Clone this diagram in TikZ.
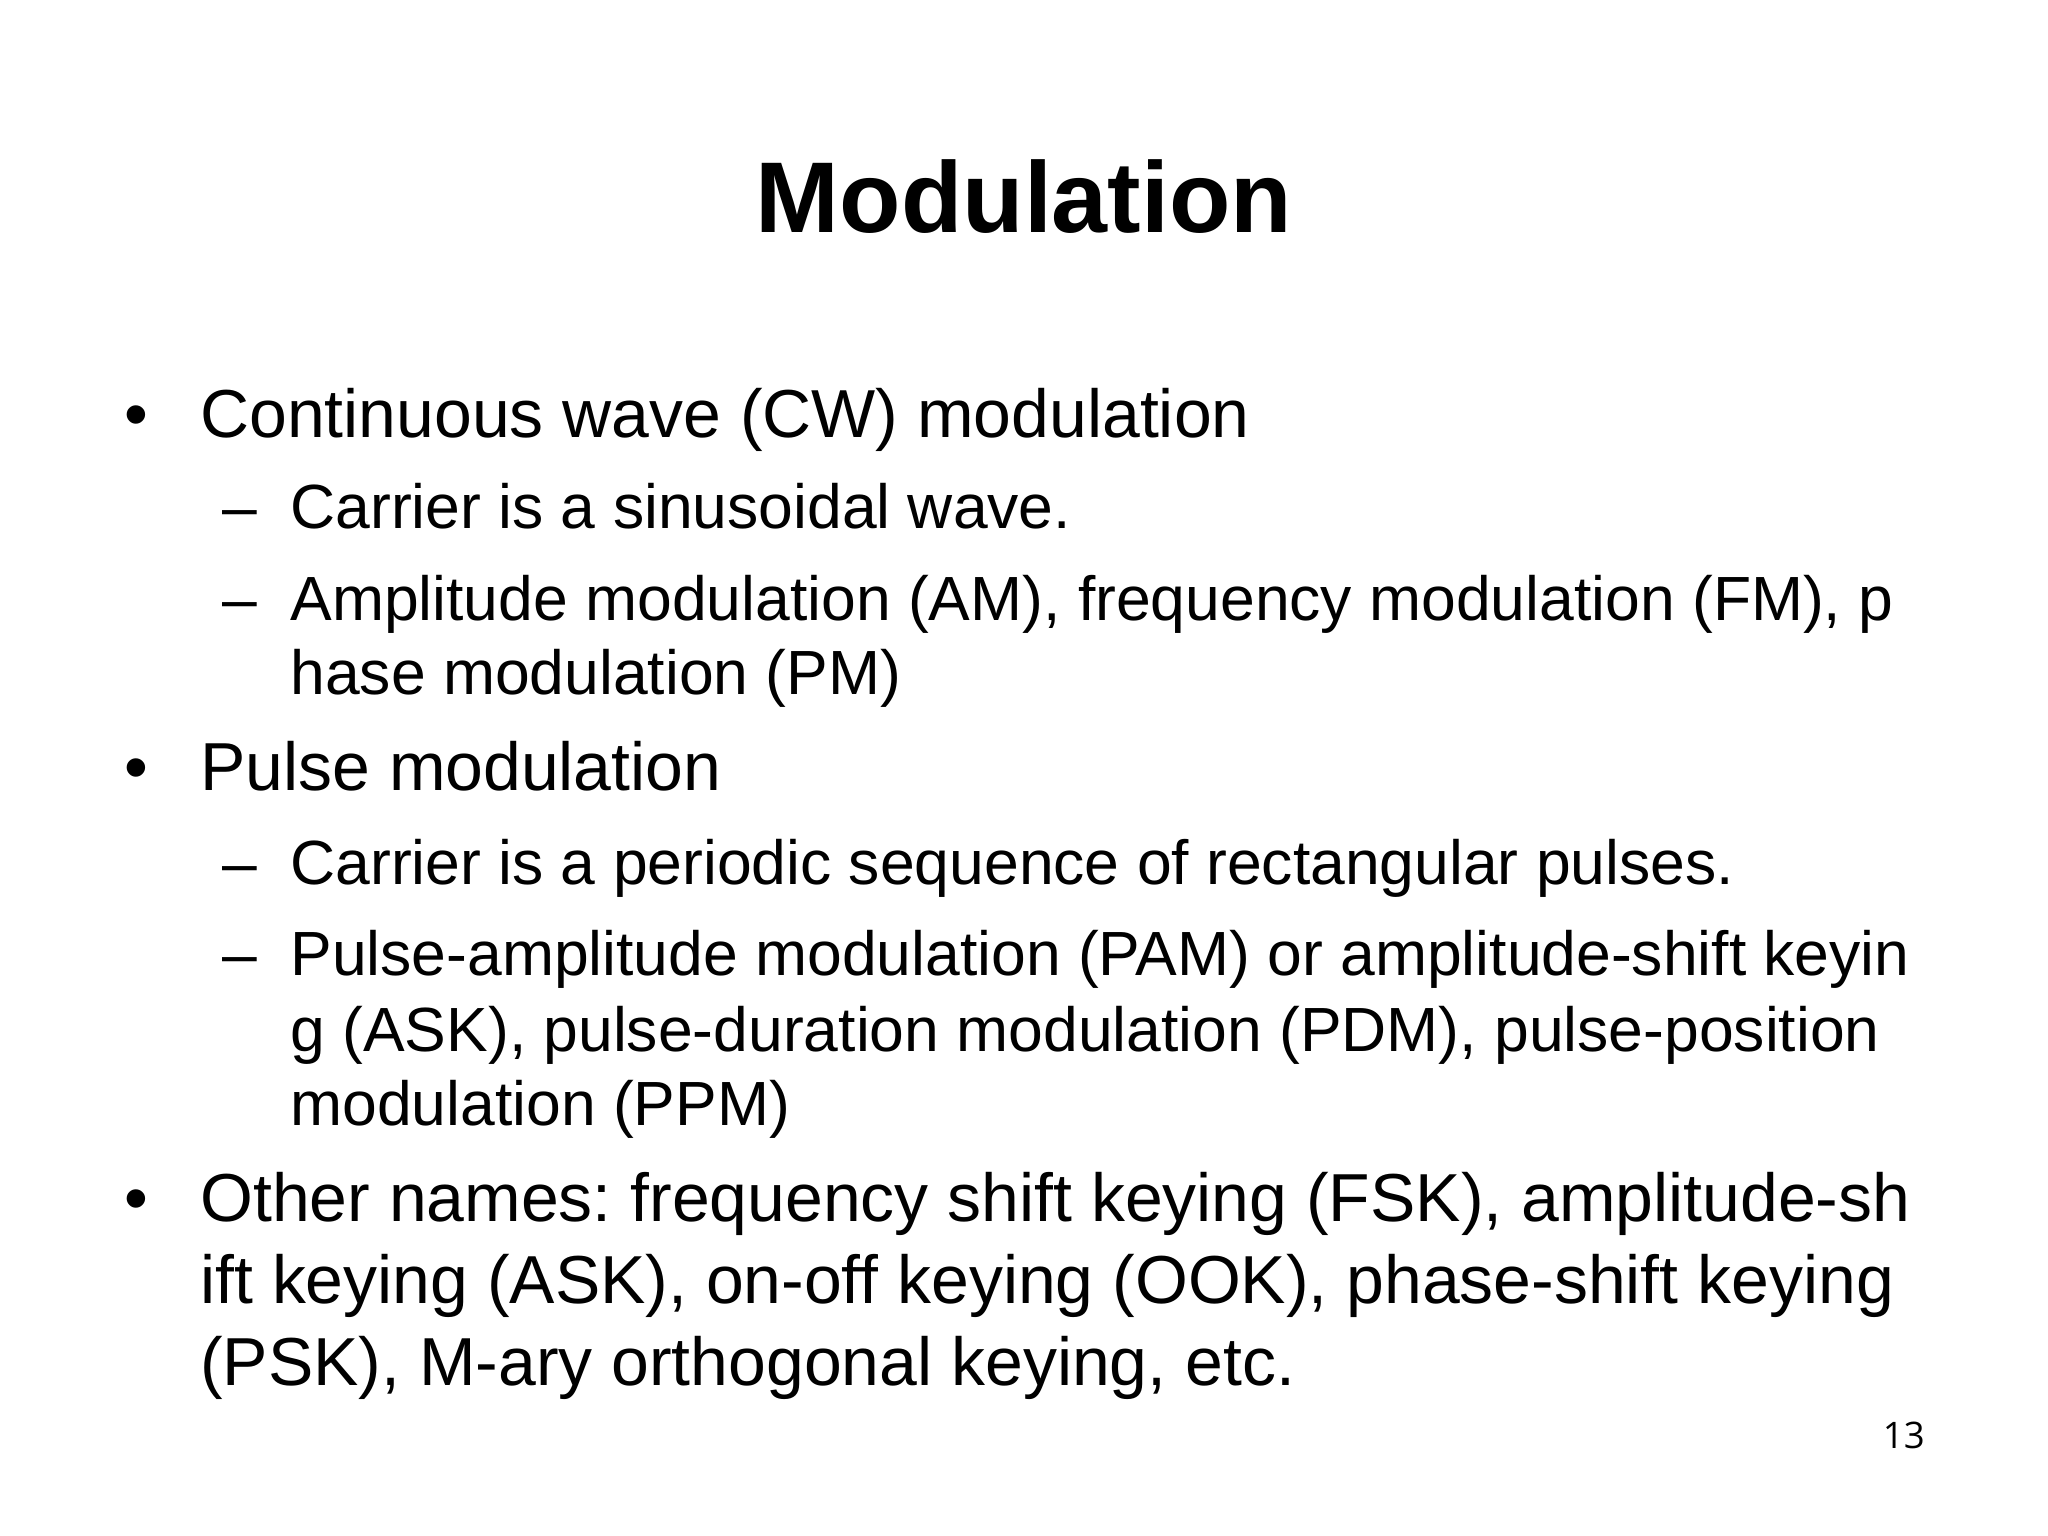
\documentclass[tikz,border=0pt]{standalone}
\usepackage{fontspec}
\setmainfont{Liberation Sans}
\newfontfamily\numfont{Open Sans}
\frenchspacing
\begin{document}
\begin{tikzpicture}[x=0.5pt,y=-0.5pt,
  lone/.style={anchor=base west,inner sep=0pt,font=\fontsize{26}{30}\selectfont},
  ltwo/.style={anchor=base west,inner sep=0pt,font=\fontsize{23.9}{26}\selectfont}]
\useasboundingbox (0,0) rectangle (1568,1176);
\node[anchor=base,inner sep=0pt,font=\fontsize{38.5}{44}\bfseries] (title) at (784,178) {Modulation};
\node[lone] (b1) at (95,335) {•};
\node[lone] (t1) at (153,335) {Continuous wave (CW) modulation};
\node[ltwo] (d1) at (170,405) {–};
\node[ltwo] (s1) at (222,405) {Carrier is a sinusoidal wave.};
\node[ltwo] (d2) at (170,475) {–};
\node[ltwo] (s2) at (222,475) {Amplitude modulation (AM), frequency modulation (FM), p};
\node[ltwo] (s2b) at (222,532) {hase modulation (PM)};
\node[lone] (b2) at (95,605) {•};
\node[lone] (t2) at (153,605) {Pulse modulation};
\node[ltwo] (d3) at (170,677) {–};
\node[ltwo] (s3) at (222,677) {Carrier is a periodic sequence of rectangular pulses.};
\node[ltwo] (d4) at (170,747) {–};
\node[ltwo] (s4) at (222,747) {Pulse-amplitude modulation (PAM) or amplitude-shift keyin};
\node[ltwo] (s4b) at (222,805) {g (ASK), pulse-duration modulation (PDM), pulse-position};
\node[ltwo] (s4c) at (222,862) {modulation (PPM)};
\node[lone] (b3) at (95,935) {•};
\node[lone] (t3) at (153,935) {Other names: frequency shift keying (FSK), amplitude-sh};
\node[lone] (t3b) at (153,998) {ift keying (ASK), on-off keying (OOK), phase-shift keying};
\node[lone] (t3c) at (153,1061) {(PSK), M-ary orthogonal keying, etc.};
\node[anchor=base east,inner sep=0pt,font=\numfont\fontsize{14}{16}\selectfont] (pg) at (1474,1109) {13};
\end{tikzpicture}
\end{document}
